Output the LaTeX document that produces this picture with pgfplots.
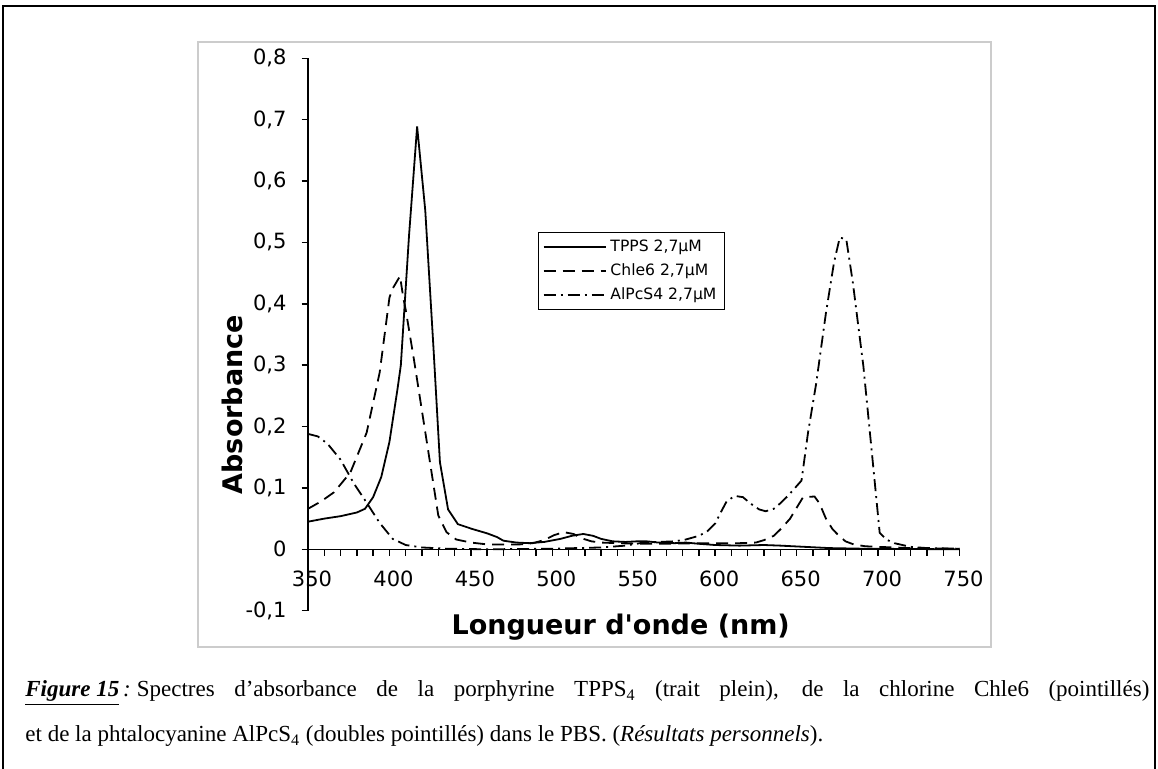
\documentclass[border=0pt]{standalone}
\usepackage{fontspec}
\setmainfont{Liberation Serif}
\newfontfamily\verd{DejaVu Sans}
\usepackage{pgfplots}
\pgfplotsset{compat=1.18}
\usepackage{pgfplotstable}

\pgfplotstableread{
x y
350 0.045
360 0.050
370 0.054
380 0.060
385 0.066
390 0.085
395 0.118
400 0.175
405 0.262
407 0.300
412 0.510
417 0.689
422 0.552
427 0.330
431 0.142
436 0.065
442 0.041
451 0.033
460 0.026
466 0.020
470 0.014
478 0.011
486 0.010
495 0.012
505 0.017
512 0.022
519 0.025
525 0.022
530 0.017
537 0.013
545 0.012
552 0.013
558 0.013
565 0.011
575 0.010
582 0.011
590 0.009
600 0.007
615 0.006
630 0.007
640 0.006
655 0.004
670 0.002
690 0.001
750 0.000
}\tpps

\pgfplotstableread{
x y
350 0.066
358 0.078
366 0.093
376 0.125
386 0.190
394 0.288
400 0.410
402 0.425
406.5 0.445
408.5 0.410
410 0.390
415 0.310
420 0.225
425 0.140
430 0.055
435 0.028
441 0.016
450 0.011
460 0.008
470 0.008
480 0.008
488 0.010
495 0.015
501 0.023
507 0.028
513 0.025
518 0.018
524 0.013
530 0.011
540 0.010
555 0.009
570 0.009
590 0.010
605 0.010
615 0.010
625 0.011
630 0.015
636 0.022
641 0.035
646 0.050
651 0.072
654 0.085
661 0.086
664 0.075
668 0.050
672 0.033
676 0.022
680 0.013
685 0.008
692 0.005
700 0.004
720 0.002
750 0.001
}\chle

\pgfplotstableread{
x y
350 0.188
356 0.184
362 0.172
370 0.146
378 0.108
386 0.076
394 0.043
402 0.017
410 0.007
420 0.003
435 0.001
460 0.000
500 0.001
530 0.003
545 0.006
556 0.011
565 0.012
575 0.013
582 0.016
590 0.022
595 0.029
600 0.042
603 0.058
607 0.078
612 0.087
617 0.085
622 0.074
627 0.065
631 0.062
636 0.066
640 0.075
645 0.088
649 0.100
653 0.112
657 0.190
662 0.270
668 0.385
673 0.468
676.5 0.508
680.5 0.505
684.5 0.435
691 0.298
696 0.163
701 0.027
705 0.016
710 0.010
720 0.004
730 0.002
750 0.001
}\alpcs

\begin{document}
\begin{tikzpicture}
\path[use as bounding box] (0,0) rectangle (579pt,384.5pt);
% outer frame (open at the bottom)
\draw[line width=1pt] (1.5pt,0) -- (1.5pt,381.5pt) -- (577.5pt,381.5pt) -- (577.5pt,0);
% light grey chart area frame
\draw[black!20, line width=0.8pt] (99pt,61pt) rectangle (495.5pt,363.5pt);

\begin{axis}[
  at={(154pt,79.15pt)}, anchor=south west,
  scale only axis, width=325.75pt, height=276.2pt,
  xmin=350, xmax=750, ymin=-0.1, ymax=0.8,
  enlargelimits=false, clip=false,
  axis x line*=middle, axis y line*=left,
  hide obscured x ticks=false,
  axis line style={line width=0.7pt},
  xtick={350,400,...,750},
  minor xtick={360,370,...,740},
  xticklabels={350,400,450,500,550,600,650,700,750},
  ytick={-0.1,0,0.1,0.2,0.3,0.4,0.5,0.6,0.7,0.8},
  yticklabels={{-0,1},0,{0,1},{0,2},{0,3},{0,4},{0,5},{0,6},{0,7},{0,8}},
  tick align=outside,
  major tick length=3.2pt, minor tick length=3.2pt,
  tick style={line width=0.7pt, black},
  every tick label/.append style={font=\verd\fontsize{10.5}{12}\selectfont},
  xticklabel style={yshift=-4pt, xshift=2pt},
  yticklabel style={xshift=-4pt},
  legend style={at={(axis description cs:0.353,0.6856)}, anchor=north west,
    draw=black, line width=0.7pt, font=\verd\fontsize{7.8}{9}\selectfont,
    inner xsep=2pt, inner ysep=1.5pt, row sep=0.6pt, cells={anchor=west}},
  legend image code/.code={\draw[#1] (0pt,0pt) -- (31pt,0pt);},
]
\addplot[black, line width=0.9pt] table {\tpps};
\addlegendentry{TPPS 2,7µM}
\addplot[black, line width=0.9pt, dash pattern=on 6pt off 3.5pt] table {\chle};
\addlegendentry{Chle6 2,7µM}
\addplot[black, line width=0.9pt, dash pattern=on 6pt off 2.5pt on 1pt off 2.5pt] table {\alpcs};
\addlegendentry{AlPcS4 2,7µM}
\node[font=\verd\bfseries\fontsize{13.5}{15}\selectfont] at (axis description cs:0.48,-0.03) {Longueur d'onde (nm)};
\node[font=\verd\bfseries\fontsize{13.5}{15}\selectfont, rotate=90] at (axis description cs:-0.116,0.373) {Absorbance};
\end{axis}

\node[anchor=base west, font=\fontsize{11.5}{13}\selectfont, inner sep=0] at (12.5pt,36pt)
 {\makebox[562pt][s]{\underline{\textbf{\textit{Figure 15}}}\textit{\,:}\hspace{3pt}Spectres d’absorbance de la porphyrine TPPS\textsubscript{4} (trait plein), de la chlorine Chle6 (pointillés)}};
\node[anchor=base west, font=\fontsize{11.5}{13}\selectfont, inner sep=0] at (12.5pt,13.5pt)
 {et de la phtalocyanine AlPcS\textsubscript{4} (doubles pointillés) dans le PBS. (\textit{Résultats personnels}).};
\end{tikzpicture}
\end{document}
